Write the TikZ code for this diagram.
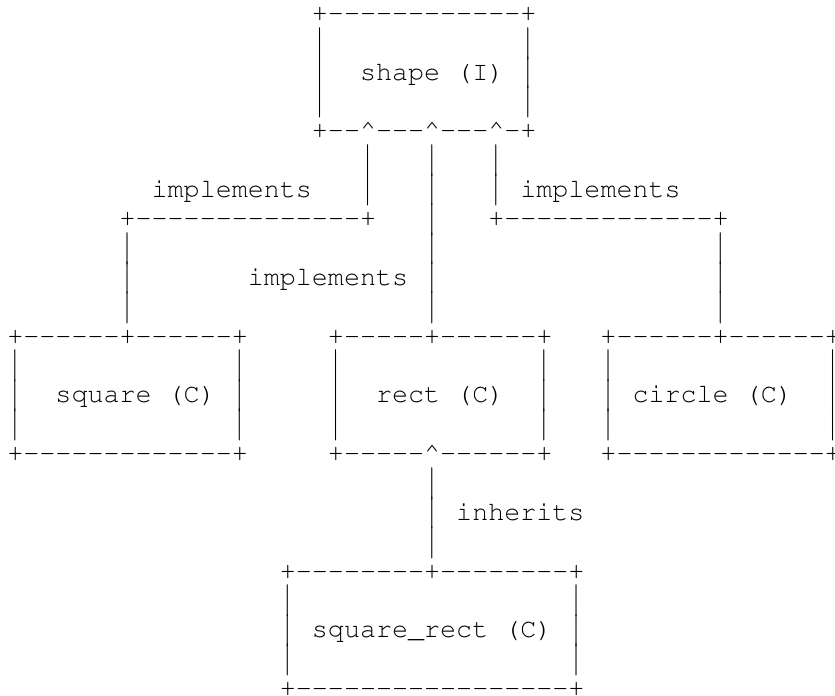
\documentclass[tikz,border=0pt]{standalone}
\usepackage[T1]{fontenc}
\usepackage{courier}
\usepackage{graphicx}
\usepackage{tikz}
\newcommand{\dsh}[1]{\foreach \i in {1,...,#1}{-}}
\newcommand{\crt}{\textasciicircum}
% | stretched to one full row, so that runs of it join up
\newsavebox{\barbox}
\sbox{\barbox}{\ttfamily\fontsize{13.36}{14.7}\selectfont|}
\newsavebox{\tallbox}
\sbox{\tallbox}{\scalebox{1}[1.49]{\resizebox*{\wd\barbox}{14.675pt}{\usebox{\barbox}}}}
\newdimen\barmid
\barmid=\dimexpr(\ht\tallbox-\dp\tallbox)/2\relax
\ht\tallbox=\dimexpr\barmid+7.1pt\relax
\dp\tallbox=\dimexpr7.1pt-\barmid\relax
\newcommand{\tallbar}{\usebox{\tallbox}}
% a run of | in column #2 from row #3 to row #4
\newcommand{\barcol}[4]{\foreach \rr in {#3,...,#4} {\node[vbar] (#1-\rr) at (#2,\rr) {\tallbar};}}

\begin{document}
\begin{tikzpicture}[x=8.015pt, y=-14.675pt,
    chr/.style={font=\ttfamily\fontsize{13.36}{14.7}\selectfont, inner sep=0pt, anchor=base, yshift=-3.7pt},
    lbl/.style={chr, anchor=base west},
    vbar/.style={inner sep=0pt, anchor=center}]
    \useasboundingbox (-0.936,-0.477) rectangle (51.155,23.237);
    % interface
    \node[lbl] (shape-top) at (18.5,0) {+\dsh{12}+};
    \barcol{shape-l}{19}{1}{3} \barcol{shape-r}{32}{1}{3}
    \node[lbl] (shape) at (21.5,2) {shape (I)};
    \node[lbl] (shape-bot) at (18.5,4) {+\dsh{2}\crt\dsh{3}\crt\dsh{3}\crt\dsh{1}+};
    % implements links
    \barcol{impl-a}{22}{5}{6} \barcol{impl-b}{26}{5}{10} \barcol{impl-c}{30}{5}{6}
    \node[lbl] (impl-a-txt) at (8.5,6) {implements};
    \node[lbl] (impl-c-txt) at (31.5,6) {implements};
    \node[lbl] (impl-b-txt) at (14.5,9) {implements};
    \node[lbl] (impl-a-run) at (6.5,7) {+\dsh{14}+};
    \node[lbl] (impl-c-run) at (29.5,7) {+\dsh{13}+};
    \barcol{impl-a-down}{7}{8}{10} \barcol{impl-c-down}{44}{8}{10}
    % classes
    \node[lbl] (square-top) at (-0.5,11) {+\dsh{6}+\dsh{6}+};
    \node[lbl] (rect-top) at (19.5,11) {+\dsh{5}+\dsh{6}+};
    \node[lbl] (circle-top) at (36.5,11) {+\dsh{6}+\dsh{6}+};
    \barcol{square-l}{0}{12}{14} \barcol{square-r}{14}{12}{14}
    \barcol{rect-l}{20}{12}{14} \barcol{rect-r}{33}{12}{14}
    \barcol{circle-l}{37}{12}{14} \barcol{circle-r}{51}{12}{14}
    \node[lbl] (square) at (2.5,13) {square (C)};
    \node[lbl] (rect) at (22.5,13) {rect (C)};
    \node[lbl] (circle) at (38.5,13) {circle (C)};
    \node[lbl] (square-bot) at (-0.5,15) {+\dsh{13}+};
    \node[lbl] (rect-bot) at (19.5,15) {+\dsh{5}\crt\dsh{6}+};
    \node[lbl] (circle-bot) at (36.5,15) {+\dsh{13}+};
    % inherits link
    \barcol{inh}{26}{16}{18}
    \node[lbl] (inh-txt) at (27.5,17) {inherits};
    % subclass
    \node[lbl] (sqrect-top) at (16.5,19) {+\dsh{8}+\dsh{8}+};
    \barcol{sqrect-l}{17}{20}{22} \barcol{sqrect-r}{35}{20}{22}
    \node[lbl] (sqrect) at (18.5,21) {square\_rect (C)};
    \node[lbl] (sqrect-bot) at (16.5,23) {+\dsh{17}+};
\end{tikzpicture}
\end{document}
